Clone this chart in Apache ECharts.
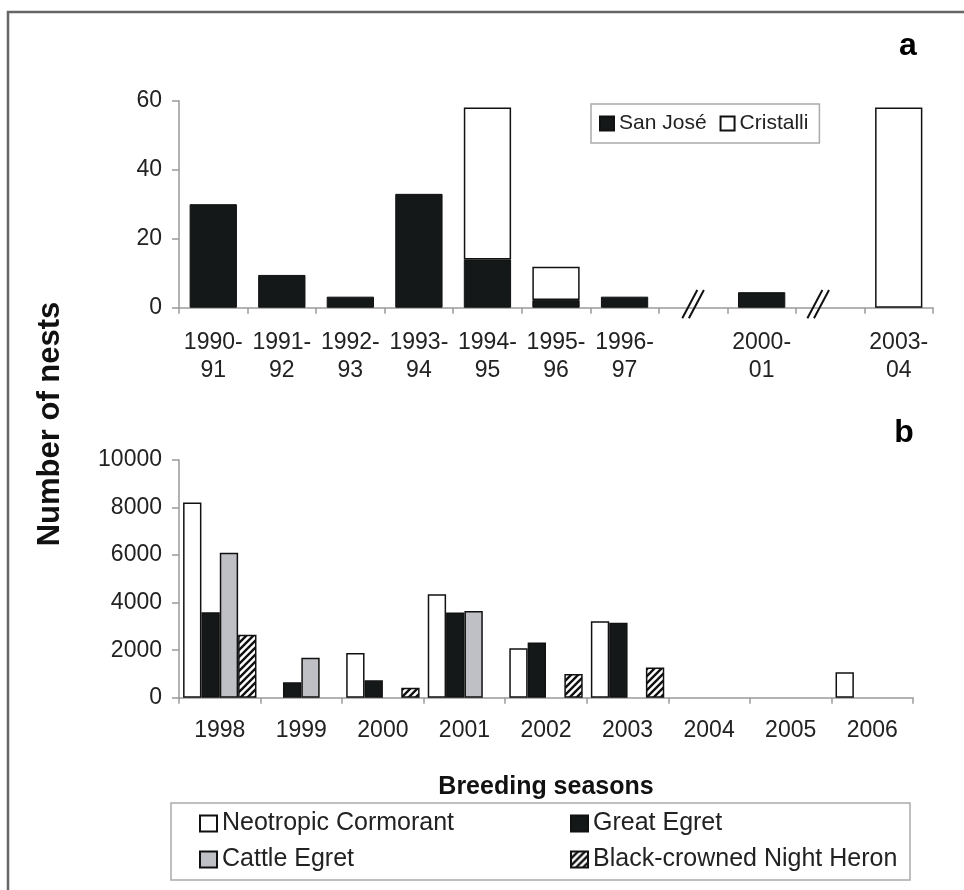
<!DOCTYPE html>
<html>
<head>
<meta charset="utf-8">
<script src="https://cdn.jsdelivr.net/npm/echarts@6/dist/echarts.min.js"></script>
<style>
html,body{margin:0;padding:0;background:#fff;}
#c{width:964px;height:890px;}
</style>
</head>
<body>
<div id="c"></div>
<script>
// ---- Panel a data ----
const seasonsA = ['1990-91','1991-92','1992-93','1993-94','1994-95','1995-96','1996-97',' ','2000-01','  ','2003-04'];
const sanJose   = [30, 9.5, 3.2, 33, 14, 2.2, 3.2, null, 4.5, null, null];
const cristalli = [null, null, null, null, 44, 9.7, null, null, null, null, 58];
const breakIdx  = [7, 9];
const ticksA = [0, 20, 40, 60];

// ---- Panel b data ----
const seasonsB = ['1998','1999','2000','2001','2002','2003','2004','2005','2006'];
const cormorant  = [8210, null, 1880, 4350, 2080, 3220, null, null, 1070];
const greatEgret = [3600, 650, 730, 3580, 2320, 3150, null, null, null];
const cattleEgret= [6100, 1680, null, 3650, null, null, null, null, null];
const nightHeron = [2650, null, 420, null, 1000, 1270, null, null, null];
const ticksB = [0, 2000, 4000, 6000, 8000, 10000];

// ---- styles ----
const FONT = "'Liberation Sans', Arial, Helvetica, sans-serif";
const BLACK = '#141818';
const GRAY = '#bfc0c6';
const AXIS = '#9a9a9a';
const TXT = '#222';
const breakOffsets = [0, -12];

function hatch() {
  const s = 7;
  const cv = document.createElement('canvas');
  cv.width = s; cv.height = s;
  const ctx = cv.getContext('2d');
  ctx.fillStyle = '#fff';
  ctx.fillRect(0, 0, s, s);
  ctx.strokeStyle = '#111';
  ctx.lineWidth = 2.4;
  ctx.beginPath();
  ctx.moveTo(-s, s * 2); ctx.lineTo(s * 2, -s);
  ctx.moveTo(-s, s); ctx.lineTo(s, -s);
  ctx.moveTo(0, s * 2); ctx.lineTo(s * 2, 0);
  ctx.stroke();
  return cv;
}
const hatchPattern = { image: hatch(), repeat: 'repeat' };

const chart = echarts.init(document.getElementById('c'), null, { renderer: 'canvas' });

const yLabel = { color: TXT, fontSize: 23, fontFamily: FONT, margin: 17, formatter: v => String(v) };

const option = {
  animation: false,
  backgroundColor: '#fff',
  grid: [
    { left: 179, right: 31, top: 100.7, height: 207, outerBoundsMode: 'none', containLabel: false },
    { left: 179, right: 51, top: 460, height: 237.7, outerBoundsMode: 'none', containLabel: false }
  ],
  xAxis: [
    {
      type: 'category', gridIndex: 0, data: seasonsA,
      axisLine: { lineStyle: { color: AXIS, width: 1.5 } },
      axisTick: { show: true, length: 6, lineStyle: { color: AXIS, width: 1.5 }, alignWithLabel: false },
      axisLabel: {
        interval: 0, color: TXT, fontSize: 23, fontFamily: FONT, lineHeight: 28, margin: 21,
        formatter: v => v.indexOf('-') > 0 ? v.replace('-', '-\n') : ''
      }
    },
    {
      type: 'category', gridIndex: 1, data: seasonsB,
      axisLine: { lineStyle: { color: AXIS, width: 1.5 } },
      axisTick: { show: true, length: 6, lineStyle: { color: AXIS, width: 1.5 } },
      axisLabel: { interval: 0, color: TXT, fontSize: 23, fontFamily: FONT, margin: 21 },
      name: 'Breeding seasons', nameLocation: 'middle', nameGap: 77,
      nameTextStyle: { color: '#111', fontSize: 25, fontWeight: 'bold', fontFamily: FONT }
    }
  ],
  yAxis: [
    {
      type: 'value', gridIndex: 0, min: ticksA[0], max: ticksA[ticksA.length - 1], interval: ticksA[1] - ticksA[0],
      axisLine: { show: true, lineStyle: { color: AXIS, width: 1.5 } },
      axisTick: { show: true, length: 7, lineStyle: { color: AXIS, width: 1.5 } },
      splitLine: { show: false },
      axisLabel: yLabel
    },
    {
      type: 'value', gridIndex: 1, min: ticksB[0], max: ticksB[ticksB.length - 1], interval: ticksB[1] - ticksB[0],
      axisLine: { show: true, lineStyle: { color: AXIS, width: 1.5 } },
      axisTick: { show: true, length: 7, lineStyle: { color: AXIS, width: 1.5 } },
      splitLine: { show: false },
      axisLabel: yLabel
    }
  ],
  legend: [
    {
      data: ['San José', 'Cristalli'],
      left: 591, top: 104, orient: 'horizontal',
      padding: [8, 11, 8, 8],
      itemWidth: 14, itemHeight: 14, itemGap: 13,
      borderColor: '#aaa', borderWidth: 1.5,
      icon: 'rect',
      textStyle: { color: TXT, fontSize: 21, fontFamily: FONT, lineHeight: 23 }
    },
    {
      data: [
        { name: 'Neotropic Cormorant', textStyle: { width: 337 } },
        { name: 'Great Egret', textStyle: { width: 308 } },
        { name: 'Cattle Egret', textStyle: { width: 337 } },
        { name: 'Black-crowned Night Heron', textStyle: { width: 308 } }
      ],
      left: 171, top: 803, orient: 'horizontal', width: 705,
      padding: [8, 9, 8, 28],
      itemWidth: 17, itemHeight: 16, itemGap: 11,
      borderColor: '#aaa', borderWidth: 1.5,
      icon: 'rect',
      textStyle: { color: TXT, fontSize: 25, fontFamily: FONT, lineHeight: 24 }
    }
  ],
  series: [
    {
      name: 'San José', type: 'bar', xAxisIndex: 0, yAxisIndex: 0, stack: 'a',
      data: sanJose, barCategoryGap: '31%',
      itemStyle: { color: BLACK, borderColor: '#111', borderWidth: 1 }
    },
    {
      name: 'Cristalli', type: 'bar', xAxisIndex: 0, yAxisIndex: 0, stack: 'a',
      data: cristalli, barCategoryGap: '31%',
      itemStyle: { color: '#fff', borderColor: '#111', borderWidth: 1.5 }
    },
    {
      type: 'custom', xAxisIndex: 0, yAxisIndex: 0, silent: true, clip: false, z: 5,
      data: breakIdx.map(i => [i, 0]),
      renderItem: function (params, api) {
        const p = api.coord([api.value(0), api.value(1)]);
        const x = p[0] + breakOffsets[params.dataIndex];
        const y = p[1];
        const st = { stroke: '#111', lineWidth: 2 };
        return {
          type: 'group',
          children: [
            { type: 'line', shape: { x1: x - 10.8, y1: y + 10.6, x2: x + 4.2, y2: y - 17.7 }, style: st },
            { type: 'line', shape: { x1: x - 4.2, y1: y + 10.6, x2: x + 10.8, y2: y - 17.7 }, style: st }
          ]
        };
      }
    },
    {
      name: 'Neotropic Cormorant', type: 'bar', xAxisIndex: 1, yAxisIndex: 1,
      data: cormorant, barGap: '0%', barCategoryGap: '10%',
      itemStyle: { color: '#fff', borderColor: '#111', borderWidth: 1.5 }
    },
    {
      name: 'Great Egret', type: 'bar', xAxisIndex: 1, yAxisIndex: 1,
      data: greatEgret, barGap: '0%', barCategoryGap: '10%',
      itemStyle: { color: BLACK, borderColor: '#111', borderWidth: 1.5 }
    },
    {
      name: 'Cattle Egret', type: 'bar', xAxisIndex: 1, yAxisIndex: 1,
      data: cattleEgret, barGap: '0%', barCategoryGap: '10%',
      itemStyle: { color: GRAY, borderColor: '#111', borderWidth: 1.5 }
    },
    {
      name: 'Black-crowned Night Heron', type: 'bar', xAxisIndex: 1, yAxisIndex: 1,
      data: nightHeron, barGap: '0%', barCategoryGap: '10%',
      itemStyle: { color: hatchPattern, borderColor: '#111', borderWidth: 1.5 }
    }
  ],
  graphic: [
    {
      type: 'rect', silent: true, z: 100,
      shape: { x: 8, y: 12, width: 1000, height: 1000 },
      style: { fill: 'none', stroke: '#666', lineWidth: 2.5 }
    },
    {
      type: 'text', x: 50, y: 424, rotation: Math.PI / 2, silent: true,
      style: {
        text: 'Number of nests', fill: '#111', font: "bold 31px " + FONT,
        align: 'center', verticalAlign: 'middle'
      }
    },
    {
      type: 'text', x: 908, y: 46, silent: true,
      style: { text: 'a', fill: '#000', font: "bold 32px " + FONT, align: 'center', verticalAlign: 'middle' }
    },
    {
      type: 'text', x: 904, y: 433, silent: true,
      style: { text: 'b', fill: '#000', font: "bold 32px " + FONT, align: 'center', verticalAlign: 'middle' }
    }
  ]
};
chart.setOption(option);
</script>
</body>
</html>
